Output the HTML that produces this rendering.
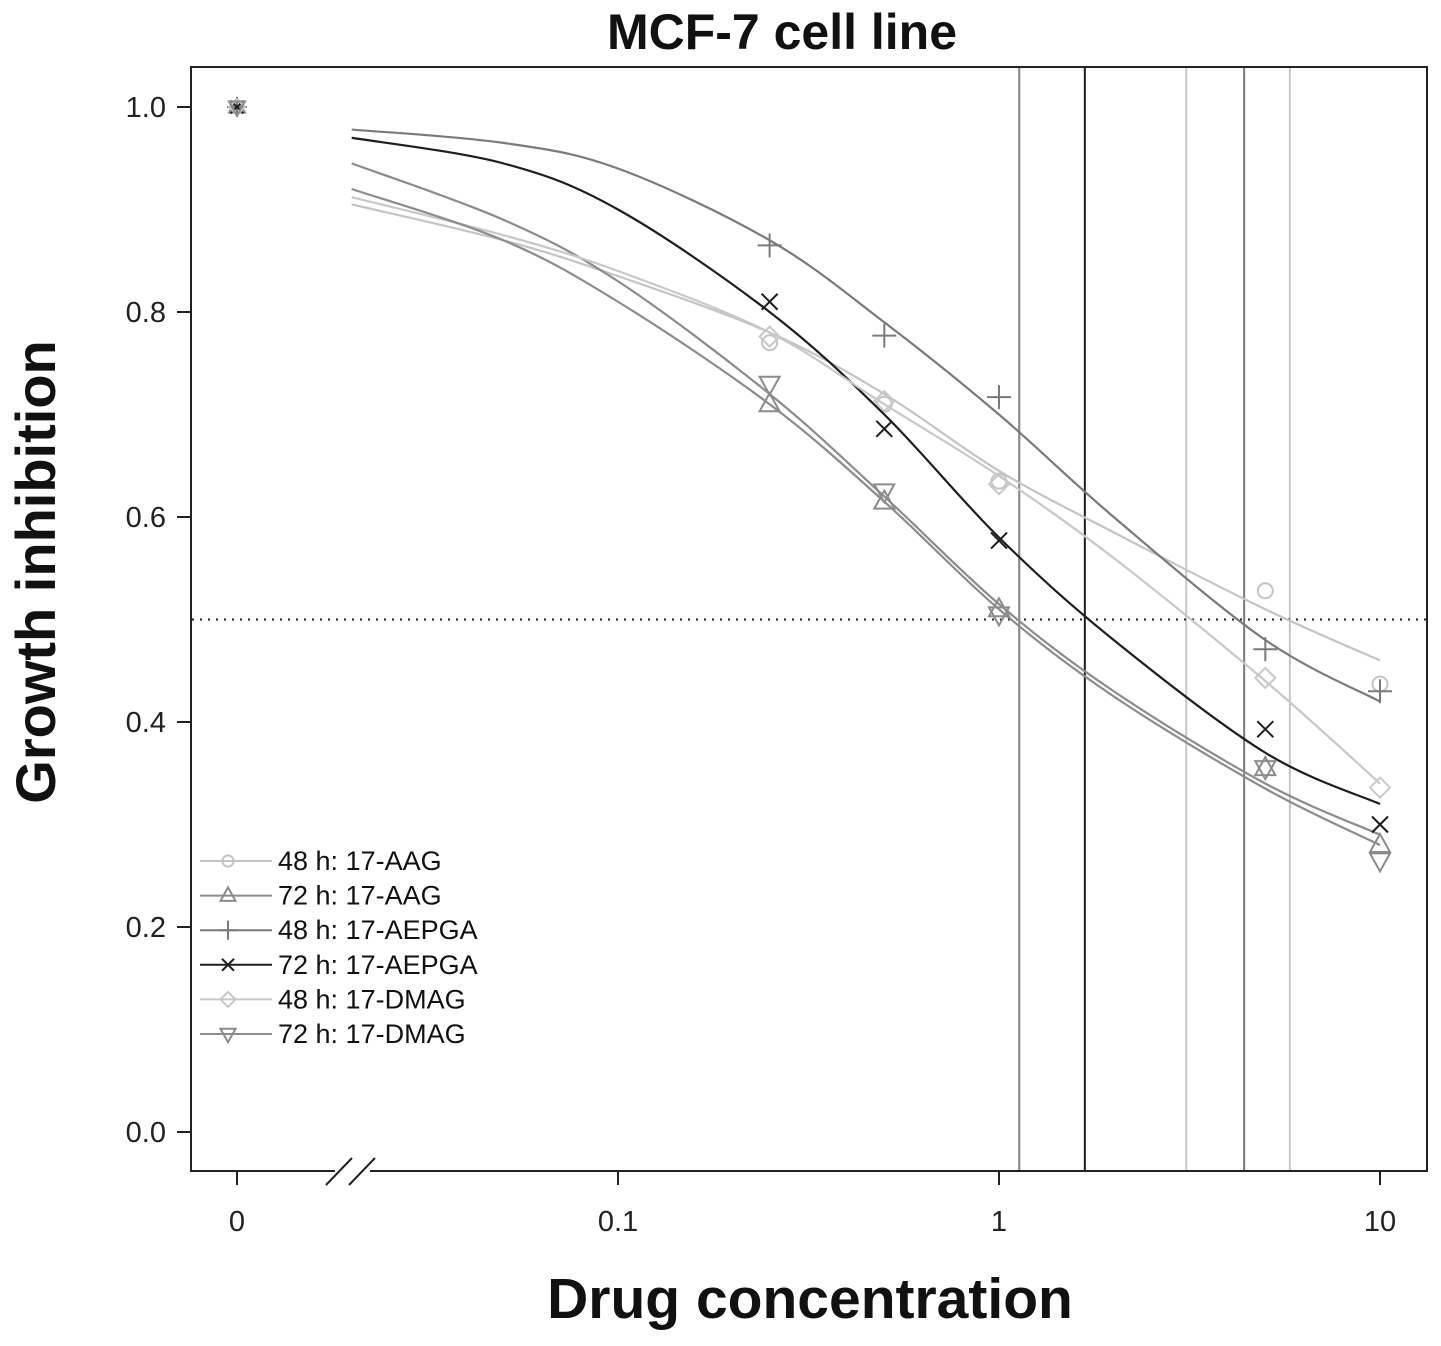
<!DOCTYPE html>
<html><head><meta charset="utf-8"><style>
body{margin:0;background:#fff;}
svg{display:block;font-family:"Liberation Sans",Arial,sans-serif;}
</style></head><body>
<svg id="chart" width="1441" height="1346" viewBox="0 0 1441 1346"></svg>
<script>
const categories=["48 h: 17-AAG","72 h: 17-AAG","48 h: 17-AEPGA","72 h: 17-AEPGA","48 h: 17-DMAG","72 h: 17-DMAG"];
const doses=[0.25,0.5,1,5,10];
const obsAAG48=[0.77,0.71,0.635,0.528,0.437];
const obsAAG72=[0.71,0.615,0.51,0.355,0.28];
const obsAEPGA48=[0.865,0.777,0.717,0.471,0.43];
const obsAEPGA72=[0.81,0.686,0.577,0.393,0.30];
const obsDMAG48=[0.776,0.713,0.632,0.443,0.336];
const obsDMAG72=[0.73,0.625,0.505,0.355,0.265];
const fitX=[0.02,0.05,0.1,0.25,0.5,1,2,5,10];
const fitAAG48=[0.905,0.87,0.835,0.78,0.72,0.645,0.585,0.51,0.46];
const fitAAG72=[0.945,0.89,0.83,0.72,0.62,0.515,0.43,0.34,0.29];
const fitAEPGA48=[0.978,0.965,0.94,0.87,0.79,0.70,0.60,0.48,0.42];
const fitAEPGA72=[0.97,0.945,0.90,0.80,0.70,0.58,0.48,0.37,0.32];
const fitDMAG48=[0.912,0.875,0.84,0.78,0.71,0.64,0.56,0.44,0.34];
const fitDMAG72=[0.92,0.87,0.81,0.71,0.615,0.51,0.425,0.335,0.28];
const ic50=[5.8,1.13,4.4,1.68,3.1,1.13];
const yTicks=[0,0.2,0.4,0.6,0.8,1.0];
const xTicks=[0.1,1,10];
const xTickLabels=["0.1","1","10"];

const NS="http://www.w3.org/2000/svg";
const svg=document.getElementById('chart');
const X=v=>999+381*Math.log10(v);
const X0=237;
const Y=v=>1132-1025*v;
function el(t,a,p){const e=document.createElementNS(NS,t);for(const k in a)e.setAttribute(k,a[k]);(p||svg).appendChild(e);return e;}
const colors=["#c4c4c4","#8c8c8c","#7a7a7a","#1e1e1e","#c8c8c8","#8c8c8c"];
const obs=[obsAAG48,obsAAG72,obsAEPGA48,obsAEPGA72,obsDMAG48,obsDMAG72];
const fits=[fitAAG48,fitAAG72,fitAEPGA48,fitAEPGA72,fitDMAG48,fitDMAG72];
const shapes=["circle","tri","plus","cross","diamond","itri"];

let t=el('text',{x:782,y:49,'text-anchor':'middle','font-size':50,'font-weight':'bold',fill:'#111'});
t.textContent="MCF-7 cell line";



let f=el('rect',{x:191,y:67,width:1236,height:1104,fill:'none',stroke:'#222','stroke-width':2});



ic50.forEach((v,i)=>{
 const l=el('line',{x1:X(v),x2:X(v),y1:68,y2:1170,stroke:colors[i],'stroke-width':2});
 
 
});
let d=el('line',{x1:192,x2:1426,y1:Y(0.5),y2:Y(0.5),stroke:'#222','stroke-width':2,'stroke-dasharray':'2,6'});



yTicks.forEach(v=>{
 el('line',{x1:177,x2:191,y1:Y(v),y2:Y(v),stroke:'#222','stroke-width':2});
 const tx=el('text',{x:166,y:Y(v)+10,'text-anchor':'end','font-size':29,fill:'#222'});
 tx.textContent=v.toFixed(1);
 
 
});
el('line',{x1:X0,x2:X0,y1:1171,y2:1185,stroke:'#222','stroke-width':2});
let z=el('text',{x:X0,y:1231,'text-anchor':'middle','font-size':29,fill:'#222'});z.textContent="0";


xTicks.forEach((v,i)=>{
 el('line',{x1:X(v),x2:X(v),y1:1171,y2:1185,stroke:'#222','stroke-width':2});
 const tx=el('text',{x:X(v),y:1231,'text-anchor':'middle','font-size':29,fill:'#222'});
 tx.textContent=xTickLabels[i];
 
 
});
el('rect',{x:335,y:1160,width:35,height:22,fill:'#fff'});
el('line',{x1:326,x2:352,y1:1185,y2:1158,stroke:'#222','stroke-width':2});
el('line',{x1:349,x2:375,y1:1185,y2:1158,stroke:'#222','stroke-width':2});

let xt=el('text',{x:810,y:1318,'text-anchor':'middle','font-size':57,'font-weight':'bold',fill:'#111'});
xt.textContent="Drug concentration";


let yt=el('text',{x:0,y:0,'text-anchor':'middle','font-size':56,'font-weight':'bold',fill:'#111',transform:'translate(55,572) rotate(-90)'});
yt.textContent="Growth inhibition";



function marker(shape,cx,cy,c,g,sc){
 sc=sc||1;
 const s=10*sc,a={fill:'none',stroke:c,'stroke-width':2};
 if(shape=='circle')el('circle',Object.assign({cx,cy,r:7.5*sc},a),g);
 else if(shape=='tri')el('polygon',Object.assign({points:`${cx},${cy-11*sc} ${cx-10*sc},${cy+7*sc} ${cx+10*sc},${cy+7*sc}`},a),g);
 else if(shape=='itri')el('polygon',Object.assign({points:`${cx},${cy+11*sc} ${cx-10*sc},${cy-7*sc} ${cx+10*sc},${cy-7*sc}`},a),g);
 else if(shape=='plus'){el('line',Object.assign({x1:cx-s-2,x2:cx+s+2,y1:cy,y2:cy},a),g);el('line',Object.assign({x1:cx,x2:cx,y1:cy-s-2,y2:cy+s+2},a),g);}
 else if(shape=='cross'){el('line',Object.assign({x1:cx-8*sc,x2:cx+8*sc,y1:cy-8*sc,y2:cy+8*sc},a),g);el('line',Object.assign({x1:cx-8*sc,x2:cx+8*sc,y1:cy+8*sc,y2:cy-8*sc},a),g);}
 else if(shape=='diamond')el('polygon',Object.assign({points:`${cx},${cy-10*sc} ${cx+10*sc},${cy} ${cx},${cy+10*sc} ${cx-10*sc},${cy}`},a),g);
}
function smoothPath(pts){
 let p=`M${pts[0][0]},${pts[0][1]}`;
 for(let i=0;i<pts.length-1;i++){
  const p0=pts[Math.max(0,i-1)],p1=pts[i],p2=pts[i+1],p3=pts[Math.min(pts.length-1,i+2)];
  const c1=[p1[0]+(p2[0]-p0[0])/6,p1[1]+(p2[1]-p0[1])/6];
  const c2=[p2[0]-(p3[0]-p1[0])/6,p2[1]-(p3[1]-p1[1])/6];
  p+=` C${c1[0]},${c1[1]} ${c2[0]},${c2[1]} ${p2[0]},${p2[1]}`;
 }
 return p;
}
categories.forEach((name,i)=>{
 const g=el('g',{});
 
 
 const pts=fitX.map((x,k)=>[X(x),Y(fits[i][k])]);
 el('path',{d:smoothPath(pts),fill:'none',stroke:colors[i],'stroke-width':2.2},g);
 doses.forEach((x,k)=>marker(shapes[i],X(x),Y(obs[i][k]),colors[i],g));
 marker(shapes[i],X0,Y(1.0),colors[i],g,0.8);
 const ly=861+34.6*i;
 const lg=el('g',{});
 
 
 el('line',{x1:200,x2:272,y1:ly,y2:ly,stroke:colors[i],'stroke-width':2},lg);
 marker(shapes[i],228,ly,colors[i],lg,0.75);
 const lt=el('text',{x:278,y:ly+9,'font-size':27,fill:'#111'},lg);
 lt.textContent=name;
});
</script>
</body></html>
